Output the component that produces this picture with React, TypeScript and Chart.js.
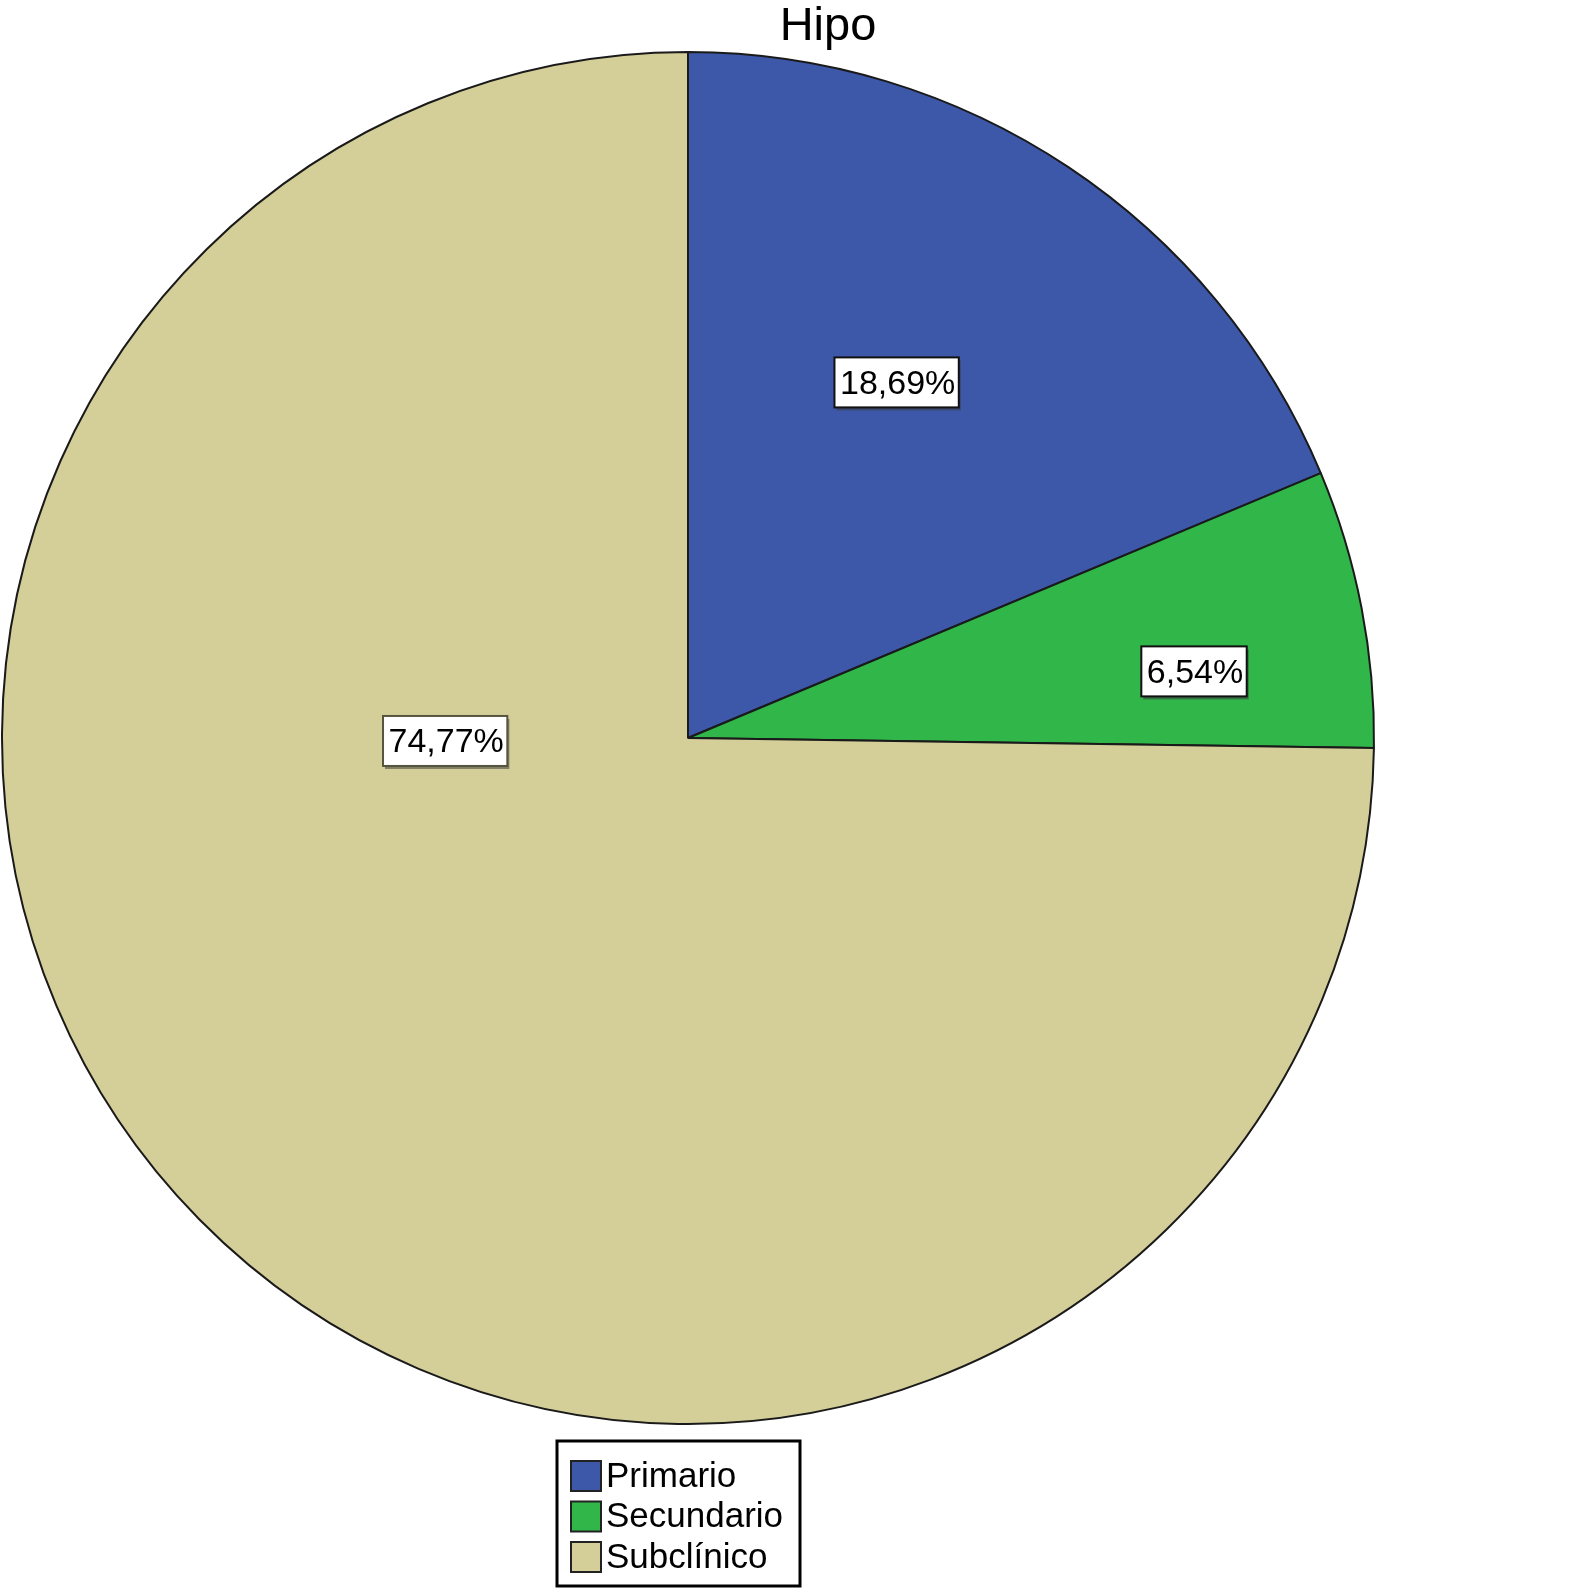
import React, { useEffect, useRef } from "react";
import { Chart, registerables } from "chart.js";

Chart.register(...registerables);

const TITLE = "Hipo";
const categories = ["Primario", "Secundario", "Subclínico"];
const percentages = [18.69, 6.54, 74.77];
const sliceColors = ["#3d58a9", "#31b64a", "#d4ce99"];

// label placement: angle (deg clockwise from top) and radial fraction
const labelAngles = [30.4, 82.5, 269.3];
const labelRadii = [0.601, 0.744, 0.354];

const FONT = '"Liberation Sans", Arial, Helvetica, sans-serif';

const fmt = (v: number) => v.toFixed(2).replace(".", ",") + "%";

const overlayPlugin = {
  id: "overlay",
  afterDraw(chart: any) {
    const ctx = chart.ctx as CanvasRenderingContext2D;
    const meta = chart.getDatasetMeta(0);
    const arc0 = meta.data[0] as any;
    const cx = arc0.x;
    const cy = arc0.y;
    const R = arc0.outerRadius;
    const values = chart.data.datasets[0].data as number[];
    const colors = chart.data.datasets[0].backgroundColor as string[];

    ctx.save();
    // title
    ctx.fillStyle = "#000";
    ctx.font = `47px ${FONT}`;
    ctx.textAlign = "center";
    ctx.textBaseline = "alphabetic";
    ctx.fillText(TITLE, cx + 140, 40);

    // value labels
    ctx.font = `34px ${FONT}`;
    values.forEach((v, i) => {
      const a = (labelAngles[i] * Math.PI) / 180;
      const x = cx + Math.sin(a) * R * labelRadii[i];
      const y = cy - Math.cos(a) * R * labelRadii[i];
      const text = fmt(v);
      const w = ctx.measureText(text).width + 9;
      const h = 50;
      // shadow
      ctx.fillStyle = "rgba(60,60,60,0.55)";
      ctx.fillRect(x - w / 2 + 2, y - h / 2 + 3, w, h);
      ctx.fillStyle = "#fff";
      ctx.fillRect(x - w / 2, y - h / 2, w, h);
      ctx.lineWidth = 2;
      ctx.strokeStyle = i === 2 ? "#55553f" : "#111";
      ctx.strokeRect(x - w / 2, y - h / 2, w, h);
      ctx.fillStyle = "#000";
      ctx.textAlign = "center";
      ctx.textBaseline = "middle";
      ctx.fillText(text, x + 1, y + 2);
    });

    // legend
    const lx = cx - 131;
    const ly = cy + R + 17;
    const lw = 243;
    const lh = 145;
    ctx.fillStyle = "#fff";
    ctx.fillRect(lx, ly, lw, lh);
    ctx.lineWidth = 3;
    ctx.strokeStyle = "#000";
    ctx.strokeRect(lx, ly, lw, lh);
    ctx.font = `35px ${FONT}`;
    ctx.textAlign = "left";
    ctx.textBaseline = "middle";
    (chart.data.labels as string[]).forEach((lab, i) => {
      const rowY = ly + 35 + i * 40.5;
      ctx.fillStyle = colors[i];
      ctx.fillRect(lx + 14, rowY - 15, 30, 30);
      ctx.lineWidth = 2;
      ctx.strokeStyle = "#222";
      ctx.strokeRect(lx + 14, rowY - 15, 30, 30);
      ctx.fillStyle = "#000";
      ctx.fillText(lab, lx + 49, rowY + 1);
    });
    ctx.restore();
  },
};

export default function App() {
  const ref = useRef<HTMLCanvasElement | null>(null);
  useEffect(() => {
    if (!ref.current) return;
    const chart = new Chart(ref.current, {
      type: "pie",
      data: {
        labels: categories,
        datasets: [
          {
            data: percentages,
            backgroundColor: sliceColors,
            borderColor: "#1a1a1a",
            borderWidth: 2,
          },
        ],
      },
      options: {
        responsive: false,
        animation: false,
        layout: { padding: { left: 1, top: 51, right: 208, bottom: 163 } },
        plugins: {
          legend: { display: false },
          title: { display: false },
          tooltip: { enabled: false },
        },
      },
      plugins: [overlayPlugin],
    });
    return () => chart.destroy();
  }, []);
  return (
    <div style={{ position: "absolute", left: 0, top: 0, width: 1583, height: 1588, background: "#fff" }}>
      <canvas ref={ref} width={1583} height={1588} />
    </div>
  );
}
